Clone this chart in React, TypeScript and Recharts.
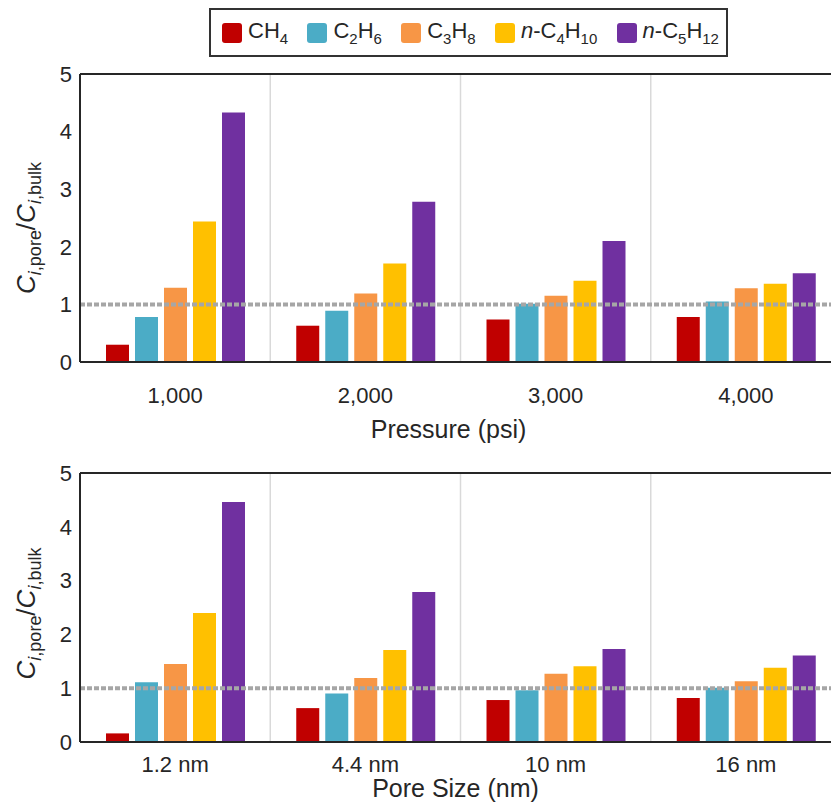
import { BarChart, Bar, XAxis, YAxis, ReferenceLine, Label, CartesianGrid } from 'recharts';

// Pressure sweep
const pressureLabels = ['1,000', '2,000', '3,000', '4,000'];
const ch4Pressure = [0.3, 0.63, 0.74, 0.78];
const c2h6Pressure = [0.78, 0.89, 1.01, 1.05];
const c3h8Pressure = [1.29, 1.19, 1.15, 1.28];
const c4h10Pressure = [2.44, 1.71, 1.41, 1.36];
const c5h12Pressure = [4.33, 2.78, 2.1, 1.54];

// Pore size sweep
const poreLabels = ['1.2 nm', '4.4 nm', '10 nm', '16 nm'];
const ch4Pore = [0.16, 0.63, 0.78, 0.82];
const c2h6Pore = [1.11, 0.9, 0.96, 1.01];
const c3h8Pore = [1.45, 1.19, 1.27, 1.13];
const c4h10Pore = [2.4, 1.71, 1.41, 1.38];
const c5h12Pore = [4.46, 2.79, 1.73, 1.61];

const yTicks = [0, 1, 2, 3, 4, 5];
const bulkRatio = 1;

const series = [
	{ key: 'ch4', color: '#C00000' },
	{ key: 'c2h6', color: '#4BACC6' },
	{ key: 'c3h8', color: '#F79646' },
	{ key: 'c4h10', color: '#FFC000' },
	{ key: 'c5h12', color: '#7030A0' },
];

const buildRows = (
	labels: string[],
	a: number[],
	b: number[],
	c: number[],
	d: number[],
	e: number[]
) =>
	labels.map((label, i) => ({
		label,
		ch4: a[i],
		c2h6: b[i],
		c3h8: c[i],
		c4h10: d[i],
		c5h12: e[i],
	}));

const pressureData = buildRows(
	pressureLabels,
	ch4Pressure,
	c2h6Pressure,
	c3h8Pressure,
	c4h10Pressure,
	c5h12Pressure
);
const poreData = buildRows(
	poreLabels,
	ch4Pore,
	c2h6Pore,
	c3h8Pore,
	c4h10Pore,
	c5h12Pore
);

const FONT = '"Liberation Sans", Arial, Helvetica, sans-serif';
const INK = '#262626';

// separators between category groups, not at the tick centres
const groupSeparators = ({ offset }: any) => {
	const n = 4;
	const step = offset.width / n;
	return Array.from({ length: n - 1 }, (_, i) => offset.left + step * (i + 1));
};

function XTitle(props: any) {
	const { viewBox, text, shiftX, baseline } = props;
	if (!viewBox) return null;
	return (
		<text
			x={viewBox.x + viewBox.width / 2 + shiftX}
			y={viewBox.y + baseline}
			textAnchor='middle'
			fontSize={25}
			fill={INK}>
			{text}
		</text>
	);
}

function YTitle(props: any) {
	const { viewBox, shiftY } = props;
	if (!viewBox) return null;
	const x = viewBox.x + 15;
	const y = viewBox.y + viewBox.height / 2 + shiftY;
	return (
		<text
			x={x}
			y={y}
			transform={`rotate(-90, ${x}, ${y})`}
			textAnchor='middle'
			fontSize={26}
			fill={INK}>
			<tspan fontStyle='italic'>C</tspan>
			<tspan fontSize={18} fontStyle='italic' dy={6}>
				i
			</tspan>
			<tspan fontSize={18}>,pore</tspan>
			<tspan dy={-6}>/</tspan>
			<tspan fontStyle='italic'>C</tspan>
			<tspan fontSize={18} fontStyle='italic' dy={6}>
				i
			</tspan>
			<tspan fontSize={18}>,bulk</tspan>
		</text>
	);
}

interface PanelProps {
	data: any[];
	height: number;
	marginTop: number;
	marginBottom: number;
	axisHeight: number;
	tickGap: number;
	title: string;
	titleShift: number;
	titleBaseline: number;
	yTitleShift: number;
}

function Panel({
	data,
	height,
	marginTop,
	marginBottom,
	axisHeight,
	tickGap,
	title,
	titleShift,
	titleBaseline,
	yTitleShift,
}: PanelProps) {
	return (
		<BarChart
			width={880}
			height={height}
			data={data}
			margin={{ top: marginTop, right: 39, bottom: marginBottom, left: 20 }}
			barSize={23}
			barGap={6}>
			<CartesianGrid
				horizontal={false}
				verticalCoordinatesGenerator={groupSeparators}
				stroke='#D9D9D9'
				strokeWidth={1.5}
			/>
			<XAxis
				dataKey='label'
				height={axisHeight}
				tickLine={false}
				tickSize={0}
				tickMargin={tickGap}
				axisLine={{ stroke: INK, strokeWidth: 2 }}
				tick={{ fill: INK, fontSize: 22 }}>
				<Label
					content={
						<XTitle text={title} shiftX={titleShift} baseline={titleBaseline} />
					}
				/>
			</XAxis>
			<YAxis
				domain={[0, 5]}
				ticks={yTicks}
				width={60}
				tickLine={false}
				tickSize={0}
				tickMargin={8}
				axisLine={{ stroke: INK, strokeWidth: 2 }}
				tick={{ fill: INK, fontSize: 22 }}>
				<Label content={<YTitle shiftY={yTitleShift} />} />
			</YAxis>
			<ReferenceLine y={5} stroke={INK} strokeWidth={2} />
			{series.map((s) => (
				<Bar
					key={s.key}
					dataKey={s.key}
					fill={s.color}
					isAnimationActive={false}
				/>
			))}
			<ReferenceLine
				y={bulkRatio}
				stroke='#A6A6A6'
				strokeWidth={4}
				strokeDasharray='5 2'
			/>
		</BarChart>
	);
}

const subStyle = { fontSize: 15, verticalAlign: '-6px' };

const legendItems = [
	{
		color: '#C00000',
		label: (
			<>
				CH<span style={subStyle}>4</span>
			</>
		),
	},
	{
		color: '#4BACC6',
		label: (
			<>
				C<span style={subStyle}>2</span>H<span style={subStyle}>6</span>
			</>
		),
	},
	{
		color: '#F79646',
		label: (
			<>
				C<span style={subStyle}>3</span>H<span style={subStyle}>8</span>
			</>
		),
	},
	{
		color: '#FFC000',
		label: (
			<>
				<i>n</i>-C<span style={subStyle}>4</span>H
				<span style={subStyle}>10</span>
			</>
		),
	},
	{
		color: '#7030A0',
		label: (
			<>
				<i>n</i>-C<span style={subStyle}>5</span>H
				<span style={subStyle}>12</span>
			</>
		),
	},
];

export default function App() {
	return (
		<div
			style={{
				position: 'absolute',
				left: 0,
				top: 0,
				width: 831,
				height: 812,
				overflow: 'hidden',
				background: '#fff',
				fontFamily: FONT,
				color: INK,
			}}>
			<div style={{ position: 'absolute', left: 0, top: 0 }}>
				<Panel
					data={pressureData}
					height={450}
					marginTop={74}
					marginBottom={28}
					axisHeight={60}
					tickGap={25}
					title='Pressure (psi)'
					titleShift={-12}
					titleBaseline={76}
					yTitleShift={10}
				/>
			</div>
			<div style={{ position: 'absolute', left: 0, top: 450 }}>
				<Panel
					data={poreData}
					height={362}
					marginTop={23}
					marginBottom={20}
					axisHeight={50}
					tickGap={14}
					title='Pore Size (nm)'
					titleShift={-5}
					titleBaseline={55}
					yTitleShift={6}
				/>
			</div>
			<div
				style={{
					position: 'absolute',
					left: 209,
					top: 8,
					width: 519,
					height: 49,
					boxSizing: 'border-box',
					border: '2px solid #333',
					background: '#fff',
					display: 'flex',
					alignItems: 'center',
					justifyContent: 'space-between',
					padding: '0 7px 0 11px',
					fontSize: 22,
					lineHeight: 1,
				}}>
				{legendItems.map((item, i) => (
					<div
						key={i}
						style={{ display: 'flex', alignItems: 'center', whiteSpace: 'nowrap' }}>
						<span
							style={{
								display: 'inline-block',
								width: 20,
								height: 20,
								borderRadius: 3,
								background: item.color,
								marginRight: 6,
							}}
						/>
						<span>{item.label}</span>
					</div>
				))}
			</div>
		</div>
	);
}
